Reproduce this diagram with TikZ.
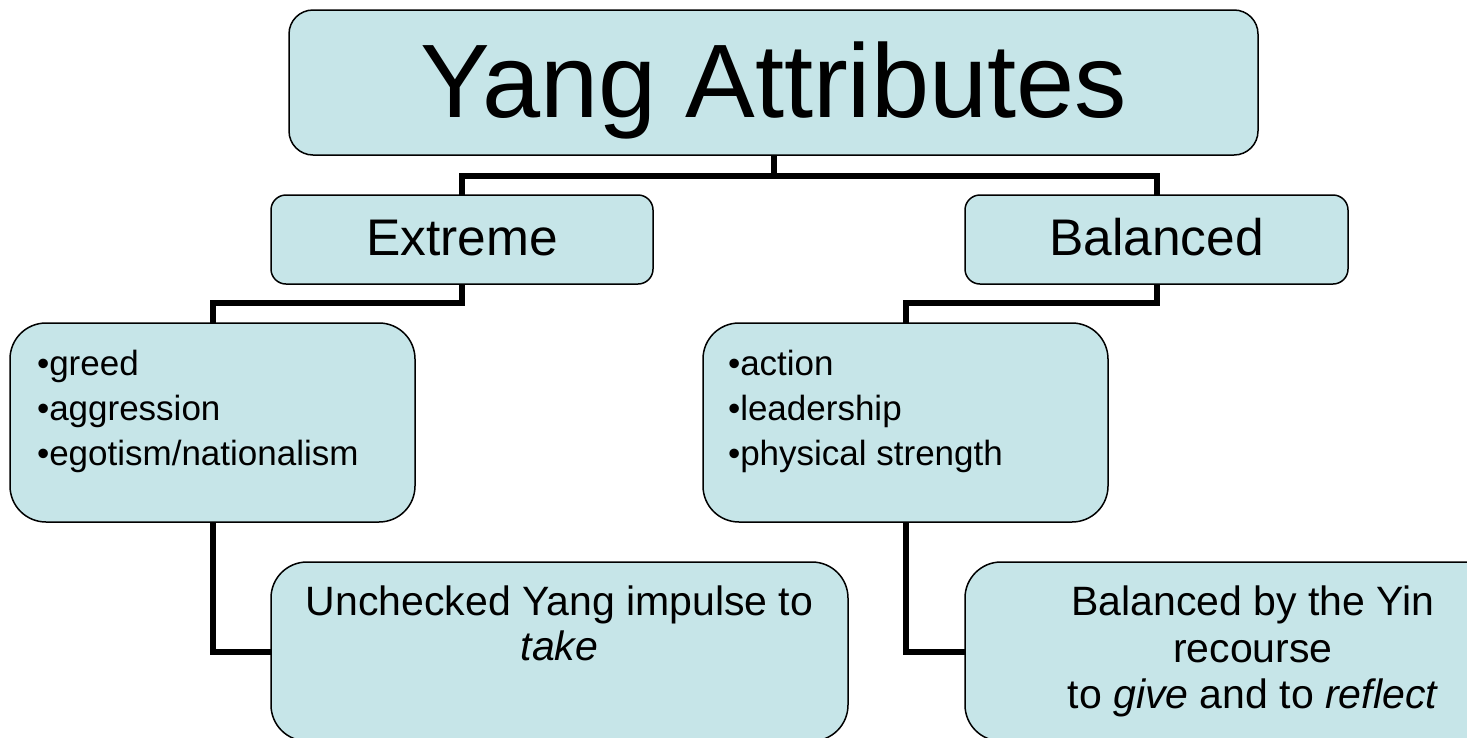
\documentclass[tikz,border=0pt]{standalone}
\usepackage{fontspec}
\setmainfont{Liberation Sans}
\definecolor{boxfill}{RGB}{198,229,232}
\newcommand{\ybox}[4]{\parbox[c][#2pt][t]{#1pt}{\vspace*{#3pt}#4}}
\tikzset{
  box/.style={draw=black, line width=1.5pt, fill=boxfill, inner sep=0pt, outer sep=0pt, anchor=north west},
  conn/.style={draw=black, line width=6pt, line join=miter}
}
\begin{document}
\begin{tikzpicture}[x=1pt,y=-1pt]
\useasboundingbox (0,0) rectangle (1467,737);
\fill[white] (0,0) rectangle (1467,737);

\node[box, rounded corners=24pt] (top) at (289,10)
  {\ybox{969}{145}{23}{\fontsize{104.5}{120}\selectfont\centering\strut Yang Attributes}};

\node[box, rounded corners=15pt] (ext) at (271,195)
  {\ybox{382}{89}{18}{\fontsize{51.5}{60}\selectfont\centering\strut Extreme}};
\node[box, rounded corners=15pt] (bal) at (965,195)
  {\ybox{383}{89}{18}{\fontsize{51.5}{60}\selectfont\centering\strut Balanced}};

\node[box, rounded corners=36pt] (lst1) at (10,323)
  {\ybox{405}{199}{20.5}{\fontsize{35}{45}\selectfont\raggedright\leftskip=27pt\relax
   \strut •greed\\•aggression\\•egotism/nationalism}};
\node[box, rounded corners=36pt] (lst2) at (703,323)
  {\ybox{405}{199}{20.5}{\fontsize{35}{45}\selectfont\raggedright\leftskip=25pt\relax
   \strut •action\\•leadership\\•physical strength}};

\node[box, rounded corners=36pt] (unc) at (271,562)
  {\ybox{577}{179}{21.5}{\fontsize{41}{45.5}\selectfont\centering
   \strut Unchecked Yang impulse to\\\textit{take}}};
\node[box, rounded corners=36pt] (bby) at (965,562)
  {\ybox{576}{179}{21}{\fontsize{41}{46.5}\selectfont\centering
   \strut Balanced by the Yin\\recourse\\to \textit{give} and to \textit{reflect}}};

\coordinate (h1) at (0,176);
\coordinate (h2) at (0,303);

\draw[conn] (top.south) -- (top.south |- h1);
\draw[conn] (ext.north) |- (bal.north |- h1) -- (bal.north);
\draw[conn] (ext.south) -- (ext.south |- h2) -| (lst1.north);
\draw[conn] (bal.south) -- (bal.south |- h2) -| (lst2.north);
\draw[conn] (lst1.south) |- (unc.west);
\draw[conn] (lst2.south) |- (bby.west);
\end{tikzpicture}
\end{document}
